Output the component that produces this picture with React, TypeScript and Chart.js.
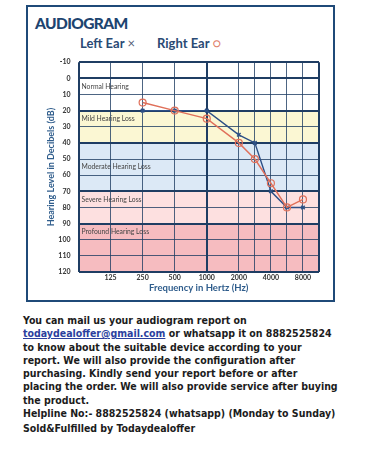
import React, { useEffect, useRef } from "react";
import { Chart, registerables } from "chart.js";

Chart.register(...registerables);

// ---- data ----
const freqLabels = ["125", "250", "500", "1000", "2000", "4000", "8000"];
const freqLabelPos = [1, 2, 3, 4, 5, 6, 7];
const freqGridPos = [0, 1, 2, 3, 4, 5, 5.5, 6, 6.5, 7, 7.5];
// tested frequencies: 250, 500, 1000, 2000, 3000, 4000, 6000, 8000
const testPos = [2, 3, 4, 5, 5.5, 6, 6.5, 7];
const rightEar = [15, 20, 25, 40, 50, 65, 80, 75];
const leftEar = [20, 20, 20, 35, 40, 70, 80, 80];
const dbMin = -10;
const dbMax = 120;
const thickDb = [-10, 0, 20, 40, 70, 90, 120];
const thickFreq = [0, 4, 7.5];
const bandNames = [
  "Normal Hearing",
  "Mild Hearing Loss",
  "Moderate Hearing Loss",
  "Severe Hearing Loss",
  "Profound Hearing Loss",
];
const bandFrom = [0, 20, 40, 70, 90];
const bandTo = [20, 40, 70, 90, 120];
const bandLabelAt = [5, 25, 55, 75, 95];
const bandColors = ["#ffffff", "#fbf7d3", "#dce9f6", "#fde0e0", "#f6bcc0"];

const GRID = "#1f3d63";

const bandPlugin = {
  id: "bands",
  beforeDraw(chart: any) {
    const { ctx, chartArea } = chart;
    const y = chart.scales.y;
    ctx.save();
    for (let i = 0; i < bandFrom.length; i++) {
      const y1 = y.getPixelForValue(bandFrom[i]);
      const y2 = y.getPixelForValue(bandTo[i]);
      ctx.fillStyle = bandColors[i];
      ctx.fillRect(chartArea.left, y1, chartArea.right - chartArea.left, y2 - y1);
    }
    ctx.restore();
  },
  beforeDatasetsDraw(chart: any) {
    const { ctx, chartArea } = chart;
    const y = chart.scales.y;
    ctx.save();
    ctx.font = "6.8px Lato";
    ctx.fillStyle = "#444";
    ctx.textBaseline = "middle";
    ctx.textAlign = "left";
    for (let i = 0; i < bandNames.length; i++) {
      ctx.fillText(bandNames[i], chartArea.left + 3, y.getPixelForValue(bandLabelAt[i]));
    }
    ctx.restore();
  },
};

function AudiogramChart() {
  const ref = useRef<HTMLCanvasElement | null>(null);
  useEffect(() => {
    if (!ref.current) return;
    const chart = new Chart(ref.current, {
      type: "line",
      data: {
        datasets: [
          {
            label: "Right Ear",
            data: testPos.map((x, i) => ({ x, y: rightEar[i] })),
            borderColor: "#e0705a",
            backgroundColor: "rgba(255,255,255,0)",
            borderWidth: 1.4,
            pointStyle: "circle",
            pointRadius: 3.5,
            pointBorderWidth: 1.2,
            pointBorderColor: "#e0705a",
            pointBackgroundColor: "rgba(255,255,255,0)",
            tension: 0,
          },
          {
            label: "Left Ear",
            data: testPos.map((x, i) => ({ x, y: leftEar[i] })),
            borderColor: "#2c4f86",
            backgroundColor: "#2c4f86",
            borderWidth: 1.4,
            pointStyle: "crossRot",
            pointRadius: 2.5,
            pointBorderWidth: 1.5,
            pointBorderColor: "#2c4f86",
            tension: 0,
          },
        ],
      },
      options: {
        animation: false,
        responsive: false,
        devicePixelRatio: 1,
        layout: { padding: { top: 8.3, right: 14, left: 0, bottom: 0 } },
        plugins: {
          legend: { display: false },
          tooltip: { enabled: false },
          title: { display: false },
        },
        scales: {
          x: {
            type: "linear",
            min: 0,
            max: 7.5,
            afterBuildTicks: (s: any) => {
              s.ticks = freqGridPos.map((v) => ({ value: v }));
            },
            afterFit: (s: any) => {
              s.height = 22;
            },
            ticks: {
              autoSkip: false,
              maxRotation: 0,
              padding: 2,
              color: "#333",
              font: { family: "Lato", size: 7, weight: "bold" },
              callback: (v: any) => {
                const i = freqLabelPos.indexOf(Number(v));
                return i >= 0 ? freqLabels[i] : "";
              },
            },
            grid: {
              color: GRID,
              drawTicks: false,
              lineWidth: (c: any) => (thickFreq.includes(c.tick?.value) ? 2 : 0.8),
            },
            border: { display: false },
            title: {
              display: true,
              text: "Frequency in Hertz (Hz)",
              color: "#2f5d8c",
              font: { family: "Lato", size: 9.5, weight: "bold" },
              padding: { top: 0, bottom: 0 },
            },
          },
          y: {
            type: "linear",
            reverse: true,
            min: dbMin,
            max: dbMax,
            afterFit: (s: any) => {
              s.width = 50.5;
            },
            ticks: {
              stepSize: 10,
              padding: 8,
              color: "#333",
              font: { family: "Lato", size: 7, weight: "bold" },
            },
            grid: {
              color: GRID,
              drawTicks: false,
              lineWidth: (c: any) => (thickDb.includes(c.tick?.value) ? 2 : 0.8),
            },
            border: { display: false },
            title: {
              display: true,
              text: "Hearing Level in Decibels (dB)",
              color: "#2f5d8c",
              font: { family: "Lato", size: 9, weight: "bold" },
              padding: { top: 18, bottom: 0 },
            },
          },
        },
      },
      plugins: [bandPlugin],
    } as any);
    return () => chart.destroy();
  }, []);
  return (
    <canvas
      ref={ref}
      width={305}
      height={244}
      style={{ position: "absolute", left: 28, top: 50, width: 305, height: 244 }}
    />
  );
}

const textLine: React.CSSProperties = { height: 13.3, lineHeight: "13.3px", whiteSpace: "nowrap" };

export default function App() {
  return (
    <div
      style={{
        position: "fixed",
        left: 0,
        top: 0,
        width: 375,
        height: 450,
        background: "#fff",
        overflow: "hidden",
      }}
    >
      <div
        style={{
          position: "absolute",
          left: 26,
          top: 5,
          width: 309,
          height: 297,
          border: "2px solid #1f4a78",
          boxSizing: "border-box",
        }}
      />
      <div
        style={{
          position: "absolute",
          left: 35,
          top: 12.5,
          fontFamily: "Lato",
          fontWeight: 900,
          fontSize: 15.5,
          lineHeight: "20px",
          color: "#1d4470",
          letterSpacing: -0.6,
        }}
      >
        AUDIOGRAM
      </div>
      <div
        style={{
          position: "absolute",
          left: 80,
          top: 34.5,
          fontFamily: "Lato",
          fontWeight: 700,
          fontSize: 13,
          lineHeight: "16px",
          color: "#2a4a74",
          whiteSpace: "nowrap",
        }}
      >
        Left Ear <span style={{ color: "#55607a", fontWeight: 400 }}>×</span>
      </div>
      <div
        style={{
          position: "absolute",
          left: 157,
          top: 34.5,
          fontFamily: "Lato",
          fontWeight: 700,
          fontSize: 13,
          lineHeight: "16px",
          color: "#2a4a74",
          whiteSpace: "nowrap",
        }}
      >
        Right Ear <span style={{ color: "#e0806a", fontWeight: 400 }}>○</span>
      </div>
      <AudiogramChart />
      <div
        style={{
          position: "absolute",
          left: 23,
          top: 314,
          fontFamily: "'DejaVu Sans Condensed', 'DejaVu Sans'",
          fontStretch: "condensed",
          fontWeight: 700,
          fontSize: 10.5,
          color: "#1c1c1c",
        }}
      >
        <div style={textLine}>You can mail us your audiogram report on</div>
        <div style={textLine}>
          <span style={{ color: "#2b3f9e", textDecoration: "underline" }}>todaydealoffer@gmail.com</span> or
          whatsapp it on 8882525824
        </div>
        <div style={textLine}>to know about the suitable device according to your</div>
        <div style={textLine}>report. We will also provide the configuration after</div>
        <div style={textLine}>purchasing. Kindly send your report before or after</div>
        <div style={textLine}>placing the order. We will also provide service after buying</div>
        <div style={textLine}>the product.</div>
        <div style={textLine}>Helpline No:- 8882525824 (whatsapp) (Monday to Sunday)</div>
        <div style={{ ...textLine, marginTop: 1.5 }}>Sold&amp;Fulfilled by Todaydealoffer</div>
      </div>
    </div>
  );
}
